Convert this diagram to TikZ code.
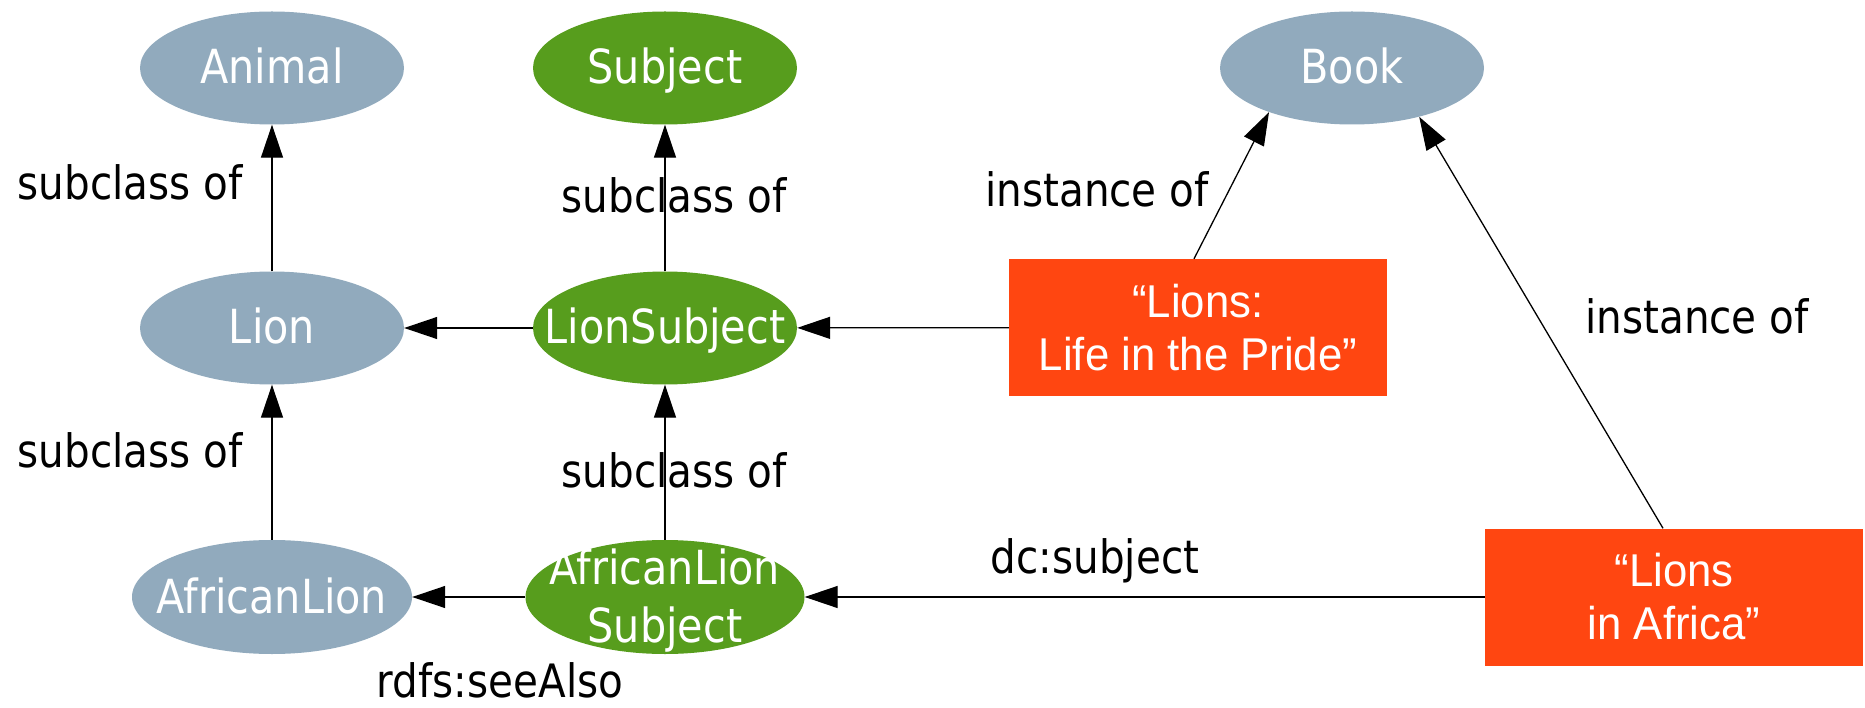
\documentclass[tikz,border=0pt]{standalone}
\usepackage{fontspec}
\newfontfamily\nodefont[FakeStretch=0.88]{DejaVu Sans}
\newfontfamily\boxfont[FakeStretch=0.95]{Liberation Sans}
\usetikzlibrary{shapes.geometric,arrows.meta}
\definecolor{clsblue}{RGB}{145,170,189}
\definecolor{subjgreen}{RGB}{87,157,29}
\definecolor{litorange}{RGB}{255,70,17}
\tikzset{
  ell/.style={ellipse, draw=none, inner sep=0pt, minimum width=264pt, minimum height=113pt},
  cls/.style={ell, fill=clsblue},
  subj/.style={ell, fill=subjgreen},
  intext/.style={text=white, font=\nodefont\fontsize{47}{58}\selectfont, align=center, inner sep=0pt},
  intextone/.style={intext, text height=32pt, text depth=0pt},
  lit/.style={rectangle, fill=litorange, minimum width=378pt, minimum height=137pt, inner sep=0pt,
    text=white, font=\boxfont\fontsize{46}{53}\selectfont, align=center},
  conn/.style={line width=1.3pt, draw=black, -{Triangle[length=33pt,width=22pt]}},
  lbl/.style={font=\nodefont\fontsize{46}{55}\selectfont, anchor=base, inner sep=0pt, text=black}
}
\begin{document}
\begin{tikzpicture}[x=1pt,y=-1pt]
\useasboundingbox (0,0) rectangle (1865,708);
% class nodes
\node[cls, label={[intextone]center:Animal}] (animal) at (272,68) {};
\node[subj, label={[intextone]center:Subject}] (subject) at (665,68) {};
\node[cls, label={[intextone]center:Book}] (book) at (1352,68) {};
\node[cls, label={[intextone]center:Lion}] (lion) at (272,328) {};
\node[subj, label={[intextone]center:LionSubject}] (lionsubj) at (665,328) {};
\node[cls, minimum width=280pt, minimum height=114pt, label={[intextone]center:AfricanLion}] (aflion) at (272,597) {};
\node[subj, minimum width=279pt, minimum height=114pt, label={[intext, yshift=-3.5pt]center:AfricanLion\\Subject}] (aflionsubj) at (665,597) {};
% literal boxes
\node[lit] (pride) at (1198,327.5) {“Lions:\\Life in the Pride”};
\node[lit] (africa) at (1674,597) {“Lions\\in Africa”};
% connectors
\draw[conn] (lion) -- (animal);
\draw[conn] (lionsubj) -- (subject);
\draw[conn] (aflion) -- (lion);
\draw[conn] (aflionsubj) -- (lionsubj);
\draw[conn] (lionsubj) -- (lion);
\draw[conn] (aflionsubj) -- (aflion);
\draw[conn] (pride) -- (lionsubj);
\draw[conn] (africa) -- (aflionsubj);
\draw[conn] ([xshift=-4pt]pride.north) -- (book.208);
\draw[conn] ([xshift=-11pt]africa.north) -- (book.324);
% edge labels
\node[lbl] (l1) at (130,200) {subclass of};
\node[lbl] (l2) at (674,213) {subclass of};
\node[lbl] (l3) at (130,467) {subclass of};
\node[lbl] (l4) at (674,487) {subclass of};
\node[lbl] (l5) at (500,697) {rdfs:seeAlso};
\node[lbl] (l6) at (1097,207) {instance of};
\node[lbl] (l7) at (1697,334) {instance of};
\node[lbl] (l8) at (1095,573) {dc:subject};
\end{tikzpicture}
\end{document}
